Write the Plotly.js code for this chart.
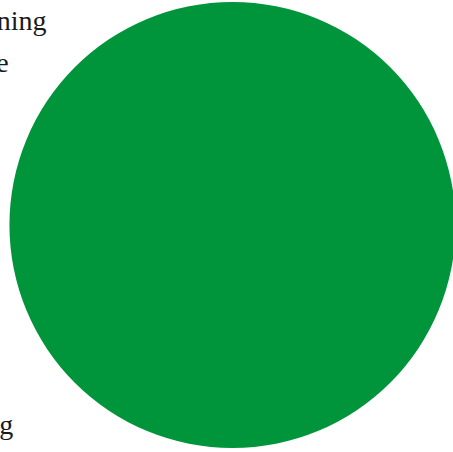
<!DOCTYPE html>
<html>
<head>
<meta charset="utf-8">
<script src="https://cdn.plot.ly/plotly-3.0.1.min.js"></script>
<style>html,body{margin:0;padding:0;overflow:hidden;background:#fff}</style>
</head>
<body>
<div id="chart"></div>
<script>
const sliceLabels = ["Share"];
const sliceValues = [100];
const sideLabels = ["Planning", "None", "Working"];
const sideLabelY = [0.955, 0.861, 0.060];

const annotations = sideLabels.map((t, i) => ({
  text: t, xref: "paper", yref: "paper",
  x: [49, 11, 15][i] / 460, y: sideLabelY[i],
  xanchor: "right", yanchor: "middle", showarrow: false,
  font: {family: "Liberation Serif, serif", size: 28, color: "#1a1a1a"}
}));

Plotly.newPlot("chart", [{
  type: "pie",
  labels: sliceLabels,
  values: sliceValues,
  marker: {colors: ["#00953a"]},
  textinfo: "none",
  hoverinfo: "label+percent",
  sort: false,
  domain: {x: [0.0207, 0.9902], y: [0.0089, 0.9956]}
}], {
  width: 460, height: 452,
  margin: {l: 0, r: 0, t: 0, b: 0},
  showlegend: false,
  paper_bgcolor: "#ffffff",
  annotations: annotations
}, {displayModeBar: false, staticPlot: true});
</script>
</body>
</html>
